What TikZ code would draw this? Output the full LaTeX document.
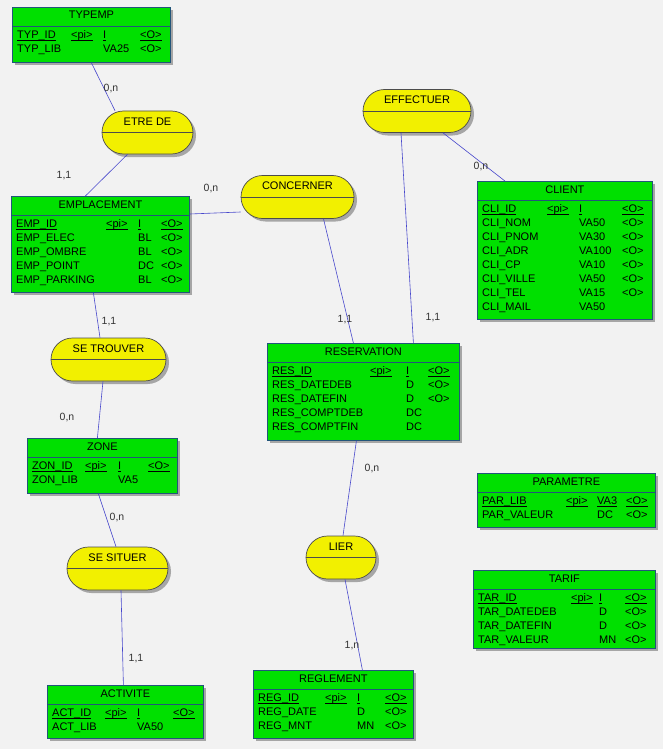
\documentclass[tikz,border=0pt]{standalone}
\usepackage{fontspec}
\setmainfont{Liberation Sans}
\usepackage{array}
\usepackage{tikz}
\usetikzlibrary{shapes.misc, shadows, positioning}
\tikzset{every node/.style={font=\fontsize{11}{14}\selectfont}}
\usepackage{xcolor}
\definecolor{fond}{HTML}{F2F2F2}
\definecolor{vert}{HTML}{00E000}
\definecolor{jaune}{HTML}{F2F000}
\definecolor{bord}{HTML}{22557A}
\definecolor{lien}{HTML}{4848CC}
\newcolumntype{Q}[1]{@{}p{#1}}
\newcommand{\souligne}[1]{\leavevmode\setbox0\hbox{#1}\rlap{\rule[-2pt]{\wd0}{0.5pt}}\box0}
\newcommand{\entite}[7]{%
  \node[entite, minimum width=#3pt, minimum height=#4pt] (#1) at (#2) {};
  \node[anchor=base] (#1-titre) at ([yshift=-12pt]#1.north) {#5};
  \draw[bord, line width=0.8pt] ([yshift=-19pt]#1.north west) -- ([yshift=-19pt]#1.north east);
  \node[anchor=north west, inner sep=0pt] (#1-attr) at ([xshift=5pt,yshift=-21.5pt]#1.north west)
    {\begin{tabular}{#6@{}l@{}}#7\end{tabular}};}
\newcommand{\relation}[4]{%
  \node[relation, minimum width=#3pt] (#1) at (#2) {#4};
  \draw[black!70, line width=0.7pt] (#1.west) -- (#1.east);}

\begin{document}
\begin{tikzpicture}[x=1pt, y=-1pt,
    entite/.style={draw=bord, fill=vert, line width=0.8pt, anchor=north west, inner sep=0pt,
      drop shadow={shadow xshift=3pt, shadow yshift=-3pt, fill=black!35, opacity=1}},
    relation/.style={rounded rectangle, draw=black!70, fill=jaune, line width=0.7pt,
      minimum height=43pt, inner sep=0pt, text height=8pt, text depth=23pt,
      drop shadow={shadow xshift=3pt, shadow yshift=-3pt, fill=black!35, opacity=1}},
    lien/.style={draw=lien, line width=0.6pt},
    card/.style={font=\fontsize{10.5}{12}\selectfont, text=black!80, inner sep=0pt}]
  \useasboundingbox (0,0) rectangle (663,749);
  \fill[fond] (0,0) rectangle (663,749);

  % entites
  \entite{typemp}{12,7}{158}{55}{TYPEMP}{Q{54pt}Q{32pt}Q{37pt}}{%
    \souligne{TYP\_ID} & \souligne{<pi>} & \souligne{I} & \souligne{<O>}\\
    TYP\_LIB & & VA25 & <O>}
  \entite{emplacement}{11,196}{178}{96}{EMPLACEMENT}{Q{90pt}Q{32pt}Q{23pt}}{%
    \souligne{EMP\_ID} & \souligne{<pi>} & \souligne{I} & \souligne{<O>}\\
    EMP\_ELEC & & BL & <O>\\
    EMP\_OMBRE & & BL & <O>\\
    EMP\_POINT & & DC & <O>\\
    EMP\_PARKING & & BL & <O>}
  \entite{client}{477,181}{175}{138}{CLIENT}{Q{65pt}Q{32pt}Q{43pt}}{%
    \souligne{CLI\_ID} & \souligne{<pi>} & \souligne{I} & \souligne{<O>}\\
    CLI\_NOM & & VA50 & <O>\\
    CLI\_PNOM & & VA30 & <O>\\
    CLI\_ADR & & VA100 & <O>\\
    CLI\_CP & & VA10 & <O>\\
    CLI\_VILLE & & VA50 & <O>\\
    CLI\_TEL & & VA15 & <O>\\
    CLI\_MAIL & & VA50 & }
  \entite{reservation}{267,343}{192}{97}{RESERVATION}{Q{98pt}Q{36pt}Q{22pt}}{%
    \souligne{RES\_ID} & \souligne{<pi>} & \souligne{I} & \souligne{<O>}\\
    RES\_DATEDEB & & D & <O>\\
    RES\_DATEFIN & & D & <O>\\
    RES\_COMPTDEB & & DC & \\
    RES\_COMPTFIN & & DC & }
  \entite{zone}{27,438}{150}{55}{ZONE}{Q{53pt}Q{33pt}Q{30pt}}{%
    \souligne{ZON\_ID} & \souligne{<pi>} & \souligne{I} & \souligne{<O>}\\
    ZON\_LIB & & VA5 & }
  \entite{activite}{47,685}{156}{53}{ACTIVITE}{Q{53pt}Q{32pt}Q{36pt}}{%
    \souligne{ACT\_ID} & \souligne{<pi>} & \souligne{I} & \souligne{<O>}\\
    ACT\_LIB & & VA50 & }
  \entite{reglement}{253,670}{160}{68}{REGLEMENT}{Q{67pt}Q{32pt}Q{28pt}}{%
    \souligne{REG\_ID} & \souligne{<pi>} & \souligne{I} & \souligne{<O>}\\
    REG\_DATE & & D & <O>\\
    REG\_MNT & & MN & <O>}
  \entite{parametre}{477,473}{178}{54}{PARAMETRE}{Q{84pt}Q{31pt}Q{29pt}}{%
    \souligne{PAR\_LIB} & \souligne{<pi>} & \souligne{VA3} & \souligne{<O>}\\
    PAR\_VALEUR & & DC & <O>}
  \entite{tarif}{473,570}{182}{78}{TARIF}{Q{93pt}Q{28pt}Q{26pt}}{%
    \souligne{TAR\_ID} & \souligne{<pi>} & \souligne{I} & \souligne{<O>}\\
    TAR\_DATEDEB & & D & <O>\\
    TAR\_DATEFIN & & D & <O>\\
    TAR\_VALEUR & & MN & <O>}

  % associations
  \relation{etrede}{147.5,132.5}{91}{ETRE DE}
  \relation{concerner}{297.5,197}{113}{CONCERNER}
  \relation{effectuer}{417,111}{108}{EFFECTUER}
  \relation{setrouver}{108.5,359.5}{115}{SE TROUVER}
  \relation{sesituer}{117.5,568.5}{101}{SE SITUER}
  \relation{lier}{341,557.5}{70}{LIER}

  % liens
  \draw[lien] (typemp.south) -- ([xshift=-32.5pt]etrede.north);
  \draw[lien] ([xshift=-20pt]etrede.south) -- ([xshift=-15pt]emplacement.north);
  \draw[lien] ([yshift=-18pt]emplacement.north east) -- ([yshift=-15pt]concerner.west);
  \draw[lien] ([xshift=26pt]concerner.south) -- ([xshift=-10pt]reservation.north);
  \draw[lien] ([xshift=-16pt]effectuer.south) -- ([xshift=50pt]reservation.north);
  \draw[lien] ([xshift=26pt]effectuer.south) -- ([xshift=-60pt]client.north);
  \draw[lien] ([xshift=-7pt]emplacement.south) -- ([xshift=-8.5pt]setrouver.north);
  \draw[lien] ([xshift=-5.5pt]setrouver.south) -- ([xshift=-5pt]zone.north);
  \draw[lien] ([xshift=-4pt]zone.south) -- ([xshift=-1.5pt]sesituer.north);
  \draw[lien] ([xshift=3.5pt]sesituer.south) -- ([xshift=-2pt]activite.north);
  \draw[lien] ([xshift=-7pt]reservation.south) -- ([xshift=2pt]lier.north);
  \draw[lien] ([xshift=4pt]lier.south) -- ([xshift=29pt]reglement.north);

  % cardinalites
  \node[card] (card-typemp) at (111,89) {0,n};
  \node[card] (card-emp1) at (64,176) {1,1};
  \node[card] (card-emp2) at (211,189) {0,n};
  \node[card] (card-client) at (481,167) {0,n};
  \node[card] (card-res1) at (345,320) {1,1};
  \node[card] (card-res2) at (433,318) {1,1};
  \node[card] (card-emp3) at (109,322) {1,1};
  \node[card] (card-zone1) at (67,418) {0,n};
  \node[card] (card-zone2) at (117,518) {0,n};
  \node[card] (card-act) at (136,659) {1,1};
  \node[card] (card-res3) at (372,469) {0,n};
  \node[card] (card-reg) at (352,646) {1,n};
\end{tikzpicture}
\end{document}
